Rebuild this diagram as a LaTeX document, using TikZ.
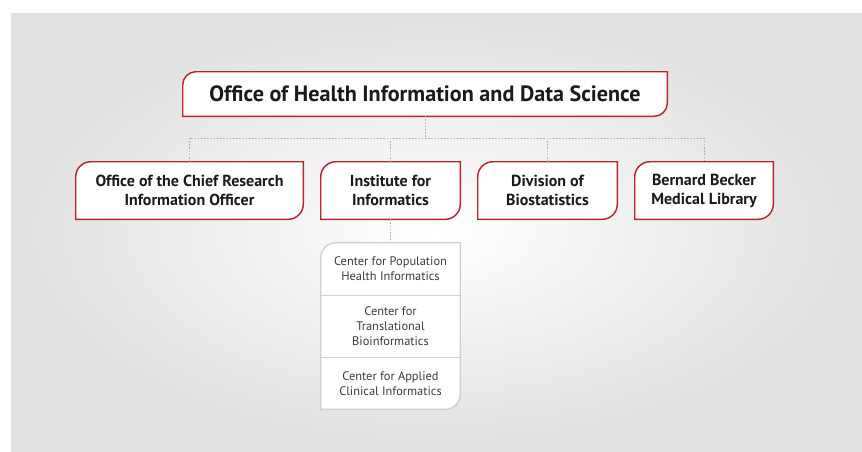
\documentclass[tikz,border=0pt]{standalone}
\usepackage{fontspec}
\setmainfont{PT Sans}
\usetikzlibrary{calc,positioning}

\definecolor{ohredline}{RGB}{187,36,43}
\definecolor{ohgrayline}{RGB}{208,208,208}
\definecolor{ohdots}{RGB}{175,175,175}
\definecolor{ohtext}{RGB}{26,26,26}
\definecolor{ohback}{RGB}{225,225,225}

\pgfdeclarelayer{backdrop}
\pgfdeclarelayer{frames}
\pgfsetlayers{backdrop,frames,main}

\tikzset{every picture/.style={line width=0.75pt}}
\tikzset{
  unitbox/.style={inner sep=0pt, align=center, text=ohtext, font=\fontsize{12}{14.2}\selectfont\bfseries},
  cellbox/.style={inner sep=0pt, align=center, text=ohtext!85, minimum width=104.25pt, font=\fontsize{9.3}{11.25}\selectfont},
  redframe/.style={draw=ohredline, line width=1.1pt, fill=white},
  grayframe/.style={draw=ohgrayline, line width=1pt, fill=white},
  orglink/.style={draw=ohdots, dash pattern=on 1.2pt off 1.2pt, line width=0.7pt},
}
% frame with the upper left and lower right corners rounded
\newcommand{\tagframe}[4]{%
  \path[#3] (#1 |- #2) -- ($(#1)+(0,#4)$) .. controls ($(#1)+(0,0.45*#4)$) and ($(#1)+(0.45*#4,0)$) .. ($(#1)+(#4,0)$)
    -- (#2 |- #1) -- ($(#2)+(0,-#4)$) .. controls ($(#2)+(0,-0.45*#4)$) and ($(#2)+(-0.45*#4,0)$) .. ($(#2)+(-#4,0)$) -- cycle;}

\begin{document}
\begin{tikzpicture}[x=0.75pt,y=0.75pt,yscale=-1,xscale=1]
\useasboundingbox (0,0) rectangle (862,451);

%Background
\begin{pgfonlayer}{backdrop}
\shade[inner color=white, outer color=ohback] (11,13) rectangle (862,451);
\end{pgfonlayer}

% Units
\node[unitbox, minimum width=363pt, minimum height=33pt, font=\fontsize{16.6}{19}\selectfont\bfseries] (ohids) at (425,94) {Office of Health Information and Data Science};
\node[unitbox, minimum width=170.25pt, minimum height=42.75pt] (cio) at (189.5,190.5) {Office of the Chief Research\\Information Officer};
\node[unitbox, minimum width=104.25pt, minimum height=42.75pt] (ifi) at (390.5,190.5) {Institute for\\Informatics};
\node[unitbox, minimum width=104.25pt, minimum height=42.75pt] (biostat) at (547.5,190.5) {Division of\\Biostatistics};
\node[unitbox, minimum width=103.5pt, minimum height=42.75pt] (becker) at (704,190.5) {Bernard Becker\\Medical Library};

% Centers of the institute
\node[cellbox, minimum height=39pt] (cphi) at (390.5,269) {Center for Population\\Health Informatics};
\node[cellbox, minimum height=46.5pt, below=0pt of cphi] (ctbi) {Center for\\Translational\\Bioinformatics};
\node[cellbox, minimum height=38.25pt, below=0pt of ctbi] (caci) {Center for Applied\\Clinical Informatics};

% Frames
\begin{pgfonlayer}{frames}
\tagframe{ohids.north west}{ohids.south east}{redframe}{13}
\tagframe{cio.north west}{cio.south east}{redframe}{15}
\tagframe{ifi.north west}{ifi.south east}{redframe}{15}
\tagframe{biostat.north west}{biostat.south east}{redframe}{15}
\tagframe{becker.north west}{becker.south east}{redframe}{15}
\tagframe{cphi.north west}{caci.south east}{grayframe}{15}
\draw[draw=ohgrayline, line width=1pt] (cphi.south west) -- (cphi.south east);
\draw[draw=ohgrayline, line width=1pt] (ctbi.south west) -- (ctbi.south east);
\end{pgfonlayer}

% Links
\coordinate (bus) at (425,138);
\draw[orglink] (ohids.south) -- (bus);
\draw[orglink] (cio.north) -- (cio.north |- bus) -- (becker.north |- bus) -- (becker.north);
\draw[orglink] (ifi.north) -- (ifi.north |- bus);
\draw[orglink] (biostat.north) -- (biostat.north |- bus);
\draw[orglink] (ifi.south) -- (cphi.north);

\end{tikzpicture}
\end{document}
